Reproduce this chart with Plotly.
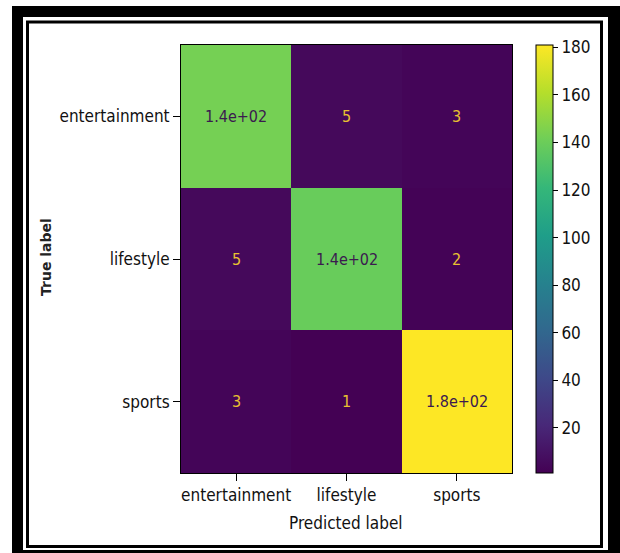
import plotly.graph_objects as go

labels = ["entertainment", "lifestyle", "sports"]
values = [
    [143, 5, 3],
    [5, 139, 2],
    [3, 1, 181],
]
cbar_ticks = [20, 40, 60, 80, 100, 120, 140, 160, 180]

W, H = 620, 553
FONT = "DejaVu Sans Condensed, DejaVu Sans, sans-serif"

def px(x):
    return x / W

def py(y):
    return 1 - y / H

zmin = min(min(r) for r in values)
zmax = max(max(r) for r in values)
mid = (zmin + zmax) / 2

fig = go.Figure()
fig.add_trace(go.Heatmap(
    z=values, x=labels, y=labels,
    colorscale="Viridis", zmin=zmin, zmax=zmax,
    xgap=0, ygap=0,
    colorbar=dict(
        x=px(536), xanchor="left", xref="paper",
        y=py(259), yanchor="middle", yref="paper",
        len=(473 - 45) / H, lenmode="fraction",
        thickness=17, thicknessmode="pixels",
        outlinewidth=1, outlinecolor="black",
        tickvals=cbar_ticks, ticks="outside", ticklen=5, tickcolor="black",
        tickfont=dict(family=FONT, size=17, color="#111"),
        xpad=0, ypad=0,
    ),
    hoverinfo="skip",
))

annotations = []
for i, row in enumerate(values):
    for j, v in enumerate(row):
        color = "#3b1a4f" if v > mid else "#e9c131"
        annotations.append(dict(
            x=labels[j], y=labels[i], xref="x", yref="y",
            text=format(v, ".2g"), showarrow=False,
            font=dict(family=FONT, size=16, color=color),
        ))

annotations.append(dict(
    x=px(346), y=py(523), xref="paper", yref="paper",
    xanchor="center", yanchor="middle",
    text="Predicted label", showarrow=False,
    font=dict(family=FONT, size=17, color="#111"),
))
annotations.append(dict(
    x=px(46), y=py(257), xref="paper", yref="paper",
    xanchor="center", yanchor="middle",
    text="<b>True label</b>", showarrow=False, textangle=-90,
    font=dict(family="DejaVu Sans, sans-serif", size=14, color="#222"),
))

shapes = [
    dict(type="rect", xref="paper", yref="paper", layer="below",
         x0=px(12), x1=px(622), y0=py(6), y1=py(556),
         fillcolor="black", line=dict(width=0)),
    dict(type="rect", xref="paper", yref="paper", layer="below",
         x0=px(23), x1=px(608), y0=py(17), y1=py(550),
         fillcolor="white", line=dict(width=0)),
    dict(type="rect", xref="paper", yref="paper", layer="below",
         x0=px(27.5), x1=px(601.5), y0=py(22), y1=py(546.5),
         fillcolor="rgba(0,0,0,0)", line=dict(color="black", width=3)),
]

fig.update_layout(
    width=W, height=H,
    margin=dict(l=0, r=0, t=0, b=0),
    paper_bgcolor="white", plot_bgcolor="rgba(0,0,0,0)",
    annotations=annotations, shapes=shapes,
    xaxis=dict(
        domain=[px(181), px(512)], showgrid=False, zeroline=False,
        showline=True, mirror=True, linecolor="black", linewidth=1,
        ticks="outside", ticklen=7, tickcolor="black",
        tickfont=dict(family=FONT, size=17, color="#111"),
    ),
    yaxis=dict(
        domain=[py(473), py(45)], showgrid=False, zeroline=False,
        showline=True, mirror=True, linecolor="black", linewidth=1,
        ticks="outside", ticklen=7, tickcolor="black",
        tickfont=dict(family=FONT, size=17, color="#111"),
        autorange="reversed",
    ),
)

fig.write_html(
    "out.html",
    config={"displayModeBar": False},
    post_script="document.body.style.margin='0';document.body.style.padding='0';"
                "document.documentElement.style.overflow='hidden';",
)
